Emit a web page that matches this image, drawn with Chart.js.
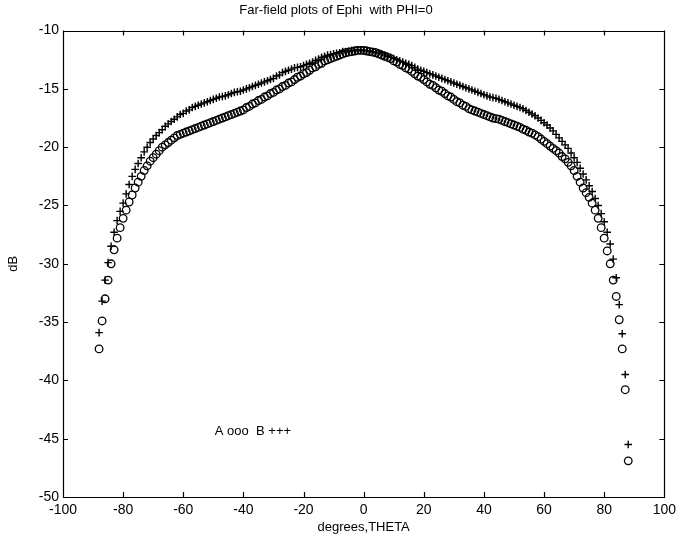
<!DOCTYPE html>
<html>
<head>
<meta charset="utf-8">
<script src="https://cdn.jsdelivr.net/npm/chart.js@4.4.1/dist/chart.umd.min.js"></script>
<style>
    html, body { margin: 0; padding: 0; background: #fff; }
    #wrap { width: 681px; height: 544px; }
</style>
</head>
<body>
<div id="wrap"><canvas id="farFieldChart" width="681" height="544"></canvas></div>
<script>
// Angles (degrees) at which both patterns were sampled
const theta = [
    -88, -87, -86, -85, -84, -83, -82, -81, -80, -79, -78, -77, -76, -75, -74, -73, -72, -71, -70, -69,
    -68, -67, -66, -65, -64, -63, -62, -61, -60, -59, -58, -57, -56, -55, -54, -53, -52, -51, -50, -49,
    -48, -47, -46, -45, -44, -43, -42, -41, -40, -39, -38, -37, -36, -35, -34, -33, -32, -31, -30, -29,
    -28, -27, -26, -25, -24, -23, -22, -21, -20, -19, -18, -17, -16, -15, -14, -13, -12, -11, -10, -9,
    -8, -7, -6, -5, -4, -3, -2, -1, 0, 1, 2, 3, 4, 5, 6, 7, 8, 9, 10, 11,
    12, 13, 14, 15, 16, 17, 18, 19, 20, 21, 22, 23, 24, 25, 26, 27, 28, 29, 30, 31,
    32, 33, 34, 35, 36, 37, 38, 39, 40, 41, 42, 43, 44, 45, 46, 47, 48, 49, 50, 51,
    52, 53, 54, 55, 56, 57, 58, 59, 60, 61, 62, 63, 64, 65, 66, 67, 68, 69, 70, 71,
    72, 73, 74, 75, 76, 77, 78, 79, 80, 81, 82, 83, 84, 85, 86, 87, 88
];

// Pattern A (circles), dB
const dbA = [
    -37.3, -34.9, -33.0, -31.4, -30.0, -28.8, -27.8, -26.9, -26.1, -25.4, -24.7, -24.1, -23.5, -23.0, -22.5, -22.0, -21.6, -21.2, -20.9, -20.6,
    -20.3, -20.0, -19.8, -19.6, -19.4, -19.2, -19.0, -18.9, -18.8, -18.7, -18.6, -18.5, -18.4, -18.3, -18.2, -18.1, -18.0, -17.9, -17.8, -17.7,
    -17.6, -17.5, -17.4, -17.3, -17.2, -17.1, -17.0, -16.9, -16.8, -16.6, -16.5, -16.3, -16.2, -16.0, -15.9, -15.7, -15.6, -15.4, -15.3, -15.1,
    -15.0, -14.8, -14.7, -14.5, -14.4, -14.2, -14.0, -13.9, -13.7, -13.6, -13.4, -13.2, -13.1, -12.9, -12.8, -12.6, -12.5, -12.4, -12.3, -12.2,
    -12.1, -12.0, -11.9, -11.85, -11.8, -11.75, -11.7, -11.7, -11.7, -11.75, -11.8, -11.85, -11.9, -12.0, -12.1, -12.2, -12.3, -12.4, -12.6, -12.7,
    -12.9, -13.0, -13.2, -13.3, -13.5, -13.7, -13.9, -14.0, -14.2, -14.4, -14.6, -14.7, -14.9, -15.1, -15.2, -15.4, -15.6, -15.7, -15.9, -16.1,
    -16.2, -16.4, -16.5, -16.7, -16.8, -16.9, -17.0, -17.1, -17.2, -17.3, -17.4, -17.5, -17.55, -17.6, -17.7, -17.8, -17.9, -18.0, -18.1, -18.2,
    -18.3, -18.45, -18.55, -18.7, -18.8, -18.95, -19.1, -19.3, -19.5, -19.7, -19.9, -20.1, -20.3, -20.5, -20.8, -21.0, -21.3, -21.6, -22.0, -22.5,
    -23.0, -23.5, -23.9, -24.3, -24.8, -25.4, -26.1, -26.9, -27.8, -28.9, -30.0, -31.4, -32.8, -34.8, -37.3, -40.8, -46.9
];

// Pattern B (plus signs), dB
const dbB = [
    -35.9, -33.2, -31.4, -29.9, -28.5, -27.3, -26.3, -25.5, -24.8, -24.0, -23.2, -22.5, -21.9, -21.4, -20.9, -20.4, -20.0, -19.6, -19.3, -19.0,
    -18.75, -18.5, -18.2, -18.0, -17.8, -17.6, -17.4, -17.2, -17.1, -16.9, -16.8, -16.6, -16.5, -16.4, -16.3, -16.2, -16.1, -16.0, -15.9, -15.8,
    -15.7, -15.65, -15.6, -15.5, -15.4, -15.3, -15.25, -15.2, -15.1, -15.0, -14.9, -14.8, -14.7, -14.6, -14.5, -14.4, -14.3, -14.2, -14.1, -13.9,
    -13.8, -13.6, -13.5, -13.4, -13.3, -13.2, -13.15, -13.1, -13.0, -12.9, -12.8, -12.7, -12.55, -12.45, -12.3, -12.2, -12.1, -12.05, -12.0, -11.95,
    -11.9, -11.8, -11.8, -11.75, -11.7, -11.7, -11.65, -11.65, -11.7, -11.7, -11.75, -11.8, -11.85, -11.9, -12.0, -12.1, -12.2, -12.3, -12.4, -12.5,
    -12.6, -12.7, -12.8, -12.9, -13.0, -13.15, -13.3, -13.4, -13.5, -13.6, -13.7, -13.8, -13.9, -14.0, -14.1, -14.2, -14.3, -14.4, -14.5, -14.6,
    -14.7, -14.8, -14.9, -15.0, -15.1, -15.2, -15.3, -15.4, -15.5, -15.6, -15.7, -15.75, -15.8, -15.9, -16.0, -16.1, -16.2, -16.3, -16.4, -16.5,
    -16.6, -16.7, -16.85, -17.0, -17.15, -17.3, -17.5, -17.7, -17.9, -18.1, -18.35, -18.6, -18.9, -19.2, -19.5, -19.8, -20.1, -20.5, -20.9, -21.3,
    -21.8, -22.3, -22.8, -23.3, -23.8, -24.4, -25.0, -25.7, -26.4, -27.3, -28.3, -29.6, -31.2, -33.5, -36.0, -39.5, -45.5
];

const xTicks = [-100, -80, -60, -40, -20, 0, 20, 40, 60, 80, 100];
const yTicks = [-50, -45, -40, -35, -30, -25, -20, -15, -10];

// Key written inside the axes, anchored at a data position
const keyText = 'A ooo  B +++';
const keyAt = [-49.5, -44.4];

const FONT = '"Liberation Sans", Arial, sans-serif';

// MATLAB style box with ticks pointing inwards on all four sides, plus the key
const matlabAxes = {
    id: 'matlabAxes',
    afterDraw(chart) {
        const { ctx, chartArea: a, scales: { x, y } } = chart;
        ctx.save();
        ctx.strokeStyle = '#000';
        ctx.lineWidth = 1.2;
        ctx.beginPath();
        ctx.rect(Math.round(a.left) + 0.5, Math.round(a.top) + 0.5, Math.round(a.width), Math.round(a.height));
        xTicks.forEach(v => {
            const px = Math.round(x.getPixelForValue(v)) + 0.5;
            ctx.moveTo(px, a.bottom); ctx.lineTo(px, a.bottom - 5);
            ctx.moveTo(px, a.top); ctx.lineTo(px, a.top + 5);
        });
        yTicks.forEach(v => {
            const py = Math.round(y.getPixelForValue(v)) + 0.5;
            ctx.moveTo(a.left, py); ctx.lineTo(a.left + 5, py);
            ctx.moveTo(a.right, py); ctx.lineTo(a.right - 5, py);
        });
        ctx.stroke();

        ctx.fillStyle = '#000';
        ctx.font = '13px ' + FONT;
        ctx.textBaseline = 'middle';
        ctx.fillText(keyText, x.getPixelForValue(keyAt[0]), y.getPixelForValue(keyAt[1]));
        ctx.restore();
    }
};

const ctx = document.getElementById('farFieldChart').getContext('2d');

const farFieldChart = new Chart(ctx, {
    type: 'scatter',
    data: {
        datasets: [{
            label: 'A',
            data: theta.map((t, i) => ({ x: t, y: dbA[i] })),
            pointStyle: 'circle',
            pointRadius: 3.8,
            pointBorderWidth: 1.3,
            borderColor: '#000',
            backgroundColor: 'rgba(0,0,0,0)',
            showLine: false
        }, {
            label: 'B',
            data: theta.map((t, i) => ({ x: t, y: dbB[i] })),
            pointStyle: 'cross',
            pointRadius: 3.8,
            pointBorderWidth: 1.4,
            borderColor: '#000',
            backgroundColor: '#000',
            showLine: false
        }]
    },
    options: {
        responsive: false,
        animation: false,
        layout: { padding: { left: 6, right: 15, top: 0, bottom: 9 } },
        plugins: {
            legend: { display: false },
            tooltip: { enabled: false },
            title: {
                display: true,
                text: 'Far-field plots of Ephi  with PHI=0',
                color: '#000',
                font: { family: FONT, size: 13, weight: 'normal' },
                padding: { top: 3, bottom: 12 }
            }
        },
        scales: {
            x: {
                type: 'linear',
                min: -100,
                max: 100,
                afterBuildTicks: s => { s.ticks = xTicks.map(v => ({ value: v })); },
                afterFit: s => { s.height = 38; },
                grid: { display: false, drawTicks: false },
                border: { display: false },
                ticks: { color: '#000', font: { family: FONT, size: 14 }, padding: 5, maxRotation: 0 },
                title: { display: true, text: 'degrees,THETA', color: '#000', font: { family: FONT, size: 13 }, padding: 0 }
            },
            y: {
                type: 'linear',
                min: -50,
                max: -10,
                afterBuildTicks: s => { s.ticks = yTicks.map(v => ({ value: v })); },
                afterFit: s => { s.width = 57; },
                grid: { display: false, drawTicks: false },
                border: { display: false },
                ticks: { color: '#000', font: { family: FONT, size: 14 }, padding: 4 },
                title: { display: true, text: 'dB', color: '#000', font: { family: FONT, size: 13 }, padding: 0 }
            }
        }
    },
    plugins: [matlabAxes]
});
</script>
</body>
</html>
